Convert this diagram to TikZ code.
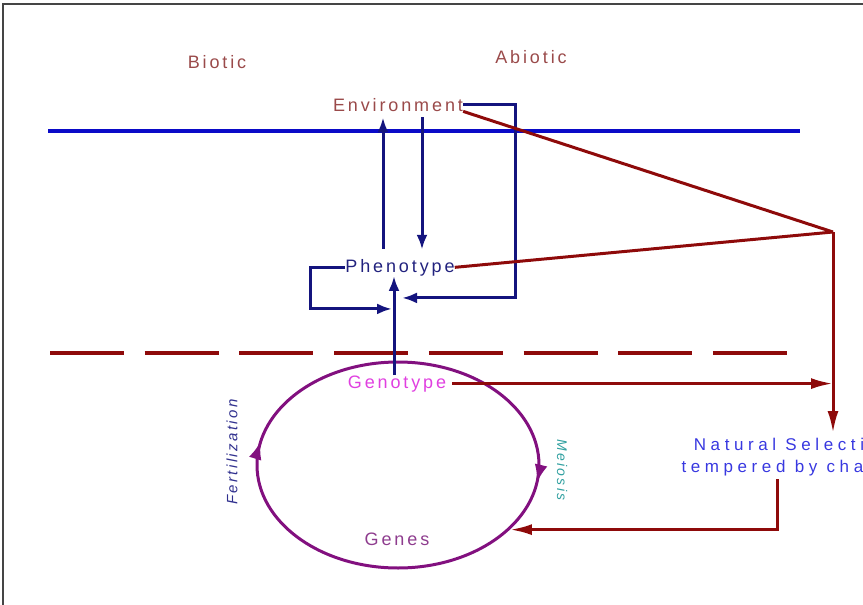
\documentclass[tikz,border=0pt]{standalone}
\usepackage{fontspec}
\setmainfont{Liberation Sans}
\newfontfamily\widefont[LetterSpace=16]{Liberation Sans}
\newfontfamily\natfont[LetterSpace=27]{Liberation Sans}
\usetikzlibrary{arrows.meta, decorations.markings, shapes.geometric}

\definecolor{framegray}{HTML}{454545}
\definecolor{zoneblue}{HTML}{0A0AC8}
\definecolor{selred}{HTML}{8E0A0A}
\definecolor{linkblue}{HTML}{14147E}
\definecolor{cyclepurple}{HTML}{82107F}
\definecolor{envbrown}{HTML}{9A4A4A}
\definecolor{phenblue}{HTML}{22227E}
\definecolor{genomagenta}{HTML}{E040E0}
\definecolor{genespurple}{HTML}{8E3C8E}
\definecolor{natblue}{HTML}{3838E0}
\definecolor{fertblue}{HTML}{30308E}
\definecolor{meioteal}{HTML}{30A0A0}

\begin{document}
\begin{tikzpicture}[x=1pt, y=-1pt,
    >={Latex[length=15pt, width=11pt]},
    tag/.style={font=\widefont\fontsize{18}{22}\selectfont, inner sep=0pt, anchor=base},
    link/.style={draw=linkblue, line width=3pt, ->},
    selline/.style={draw=selred, line width=3pt},
    selarrow/.style={selline, -{Latex[length=22pt, width=11pt]}},
    cycletip/.tip={Latex[length=18pt, width=13pt]}
  ]
  \useasboundingbox (0,0) rectangle (863,605);
  \clip (0,0) rectangle (863,605);
  \draw[framegray, line width=2.5pt] (3,605) -- (3,4) -- (863,4);

  % zones
  \draw[zoneblue, line width=4pt] (48,131) -- (800,131);
  \draw[selred, line width=4pt, dash pattern=on 74pt off 20.7pt] (50,353) -- (790,353);
  \node[tag, text=envbrown] (biotic) at (217,68) {Biotic};
  \node[tag, text=envbrown] (abiotic) at (531,63) {Abiotic};

  % levels
  \node[tag, text=envbrown] (env) at (398,111) {Environment};
  \node[tag, text=phenblue] (phen) at (400,272) {Phenotype};
  \node[tag, text=genomagenta] (geno) at (397,388) {Genotype};
  \node[tag, text=genespurple] (genes) at (397,545) {Genes};
  \node[tag, text=natblue, anchor=north, align=center, font=\natfont\fontsize{17}{22}\selectfont]
    (nat) at (793,438) {Natural Selection\\tempered by chance};
  \coordinate (sel) at (833,232);

  % life cycle
  \node[ellipse, line width=3pt, inner sep=0pt, minimum width=282pt, minimum height=206pt]
    (life) at (398,465) {};
  \draw[cyclepurple, line width=3pt, postaction={decorate},
    decoration={markings,
      mark=at position 0.023 with {\arrow{cycletip}},
      mark=at position 0.531 with {\arrow{cycletip}}}]
    (life.center) ellipse [x radius=141, y radius=103];
  \node[tag, anchor=center, text=fertblue, font=\widefont\fontsize{15}{16}\selectfont\itshape,
    rotate=90] (fert) at (232,452) {Fertilization};
  \node[tag, anchor=center, text=meioteal, font=\widefont\fontsize{14}{16}\selectfont\itshape,
    rotate=-90] (meio) at (562,470) {Meiosis};

  % phenotype and environment
  \draw[link] ([xshift=-17pt, yshift=10pt]phen.north) -- ([xshift=-17pt, yshift=-6pt]phen.north |- env.south);
  \draw[link] ([xshift=24pt, yshift=-6pt]env.south) -- ([xshift=24pt, yshift=9pt]env.south |- phen.north);
  \draw[link] (env.east) -- ++(52,0) |- ([xshift=2pt, yshift=-22pt]phen.south);
  \draw[link] (phen.west) -- ++(-35,0) |- ([xshift=-8pt, yshift=-33pt]phen.south);
  \draw[link] ([xshift=-3pt]geno.north) -- ([xshift=-3pt]geno.north |- phen.south);

  % selection
  \draw[selline] (env.south east) -- (sel);
  \draw[selline] (phen.east) -- (sel);
  \draw[selarrow] (sel) -- ([yshift=5pt]nat.north -| sel);
  \draw[selarrow] ([xshift=6pt]geno.east) -- (geno.east -| sel);
  \draw[selarrow] ([xshift=-16pt, yshift=-3pt]nat.south) |- (life.-30);
\end{tikzpicture}
\end{document}
